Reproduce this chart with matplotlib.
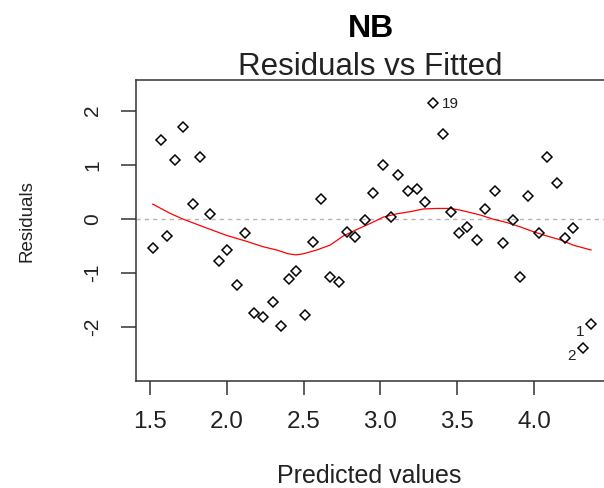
import numpy as np
import matplotlib
matplotlib.use("Agg")
import matplotlib.pyplot as plt

plt.rcParams['font.family'] = ['Liberation Sans', 'DejaVu Sans']

# fitted values and residuals of the NB model
fitted = [1.518, 1.572, 1.609, 1.663, 1.713, 1.778, 1.827, 1.893, 1.947, 1.999,
          2.064, 2.117, 2.179, 2.234, 2.299, 2.353, 2.403, 2.451, 2.507, 2.559,
          2.611, 2.672, 2.728, 2.781, 2.837, 2.900, 2.950, 3.019, 3.067, 3.117,
          3.182, 3.236, 3.290, 3.340, 3.406, 3.458, 3.510, 3.562, 3.631, 3.681,
          3.746, 3.796, 3.861, 3.911, 3.963, 4.031, 4.083, 4.148, 4.200, 4.252,
          4.317, 4.371]
resid = [-0.537, 1.452, -0.320, 1.087, 1.693, 0.272, 1.148, 0.087, -0.783, -0.574,
         -1.233, -0.270, -1.752, -1.815, -1.537, -1.983, -1.117, -0.969, -1.783, -0.431,
         0.365, -1.085, -1.178, -0.241, -0.333, -0.024, 0.481, 1.000, 0.037, 0.815,
         0.513, 0.556, 0.304, 2.148, 1.574, 0.124, -0.270, -0.148, -0.394, 0.185,
         0.519, -0.456, -0.024, -1.085, 0.420, -0.270, 1.148, 0.667, -0.357, -0.172,
         -2.400, -1.956]

# smoother through the residuals
smooth_x = [1.518, 1.630, 1.717, 1.847, 1.999, 2.118, 2.238, 2.325, 2.400, 2.450,
            2.498, 2.585, 2.672, 2.758, 2.846, 2.932, 3.019, 3.106, 3.193, 3.279,
            3.367, 3.453, 3.518, 3.562, 3.648, 3.735, 3.822, 3.909, 3.995, 4.083,
            4.169, 4.256, 4.371]
smooth_y = [0.27, 0.10, -0.01, -0.15, -0.31, -0.41, -0.52, -0.58, -0.65, -0.67,
            -0.65, -0.58, -0.49, -0.32, -0.20, -0.09, 0.03, 0.09, 0.13, 0.18,
            0.19, 0.19, 0.16, 0.13, 0.07, -0.01, -0.07, -0.15, -0.24, -0.32,
            -0.39, -0.49, -0.58]

# observations flagged with their id (index into the arrays above)
flag_names = ['19', '2', '1']
flag_index = [33, 50, 51]

x_ticks = [1.5, 2.0, 2.5, 3.0, 3.5, 4.0]
y_ticks = [-2, -1, 0, 1, 2]

fig = plt.figure(figsize=(6.04, 4.88), dpi=100)
ax = fig.add_axes([0.2247, 0.2199, 0.7828, 0.6162])

ax.axhline(0, color='#b4b4b4', lw=1.0, ls=(0, (3, 3)), zorder=1)
ax.plot(smooth_x, smooth_y, color='red', lw=0.9, zorder=2)
ax.plot(fitted, resid, ls='none', marker='D', ms=5.2, mfc='none',
        mec='black', mew=1.1, zorder=3)

for name, i in zip(flag_names, flag_index):
    if name == '19':
        ax.annotate(name, (fitted[i], resid[i]), xytext=(7, -1),
                    textcoords='offset points', ha='left', va='center',
                    fontsize=11, color='#222222')
    else:
        ax.annotate(name, (fitted[i], resid[i]), xytext=(-5, -5.5),
                    textcoords='offset points', ha='right', va='center',
                    fontsize=11, color='#222222')

ax.set_xlim(1.4069, 4.485)
ax.set_ylim(-3.0, 2.569)
ax.set_xticks(x_ticks)
ax.set_xticklabels([f"{v:.1f}" for v in x_ticks])
ax.set_yticks(y_ticks)
ax.set_yticklabels([str(v) for v in y_ticks])

ax.tick_params(axis='x', length=10, width=1.1, color='#333333', pad=12,
               labelsize=17.5, labelcolor='#222222')
ax.tick_params(axis='y', length=11, width=1.1, color='#333333', pad=13,
               labelsize=15, labelcolor='#222222')
plt.setp(ax.get_yticklabels(), rotation=90, va='center')

for s in ax.spines.values():
    s.set_color('#333333')
    s.set_linewidth(1.1)

fig.text(0.614, 0.925, "NB", ha='center', va='baseline',
         fontsize=23, fontweight='bold')
fig.text(0.6126, 0.8463, "Residuals vs Fitted", ha='center', va='baseline',
         fontsize=22.5, color='#222222')
fig.text(0.6106, 0.0102, "Predicted values", ha='center', va='baseline',
         fontsize=18, color='#222222')
fig.text(0.0447, 0.546, "Residuals", ha='center', va='center', rotation=90,
         fontsize=13.5, color='#222222')

fig.savefig("out.png", dpi=100)
